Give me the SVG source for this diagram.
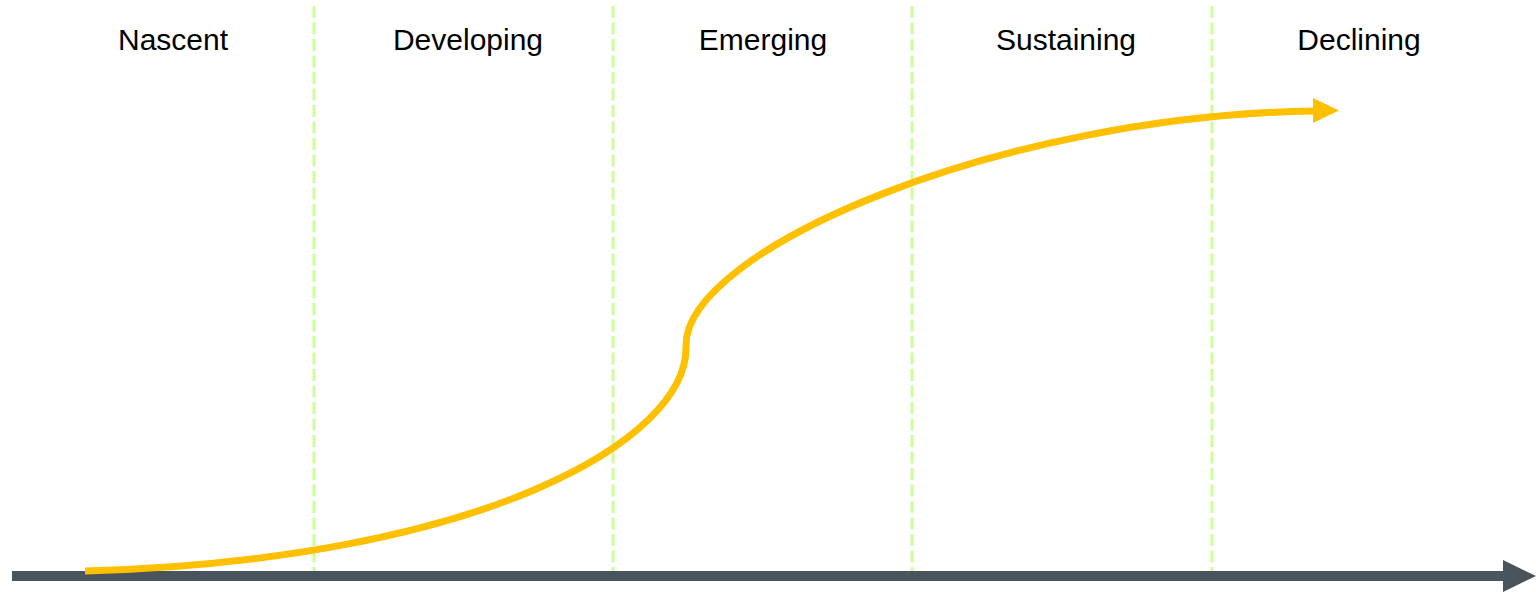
<svg xmlns="http://www.w3.org/2000/svg" width="1536" height="592" viewBox="0 0 1536 592">
<style>
.lbl{font-family:"Liberation Sans",Arial,sans-serif;font-size:30px;fill:#000;text-anchor:middle}
.div{stroke:#CCFF99;stroke-width:3;stroke-dasharray:12 4.5}
</style>
<rect width="1536" height="592" fill="#fff"/>
<g id="labels">
<g id="nascent"><text class="lbl" x="173" y="50">Nascent</text></g>
<g id="developing"><text class="lbl" x="468" y="50">Developing</text></g>
<g id="emerging"><text class="lbl" x="763" y="50">Emerging</text></g>
<g id="sustaining"><text class="lbl" x="1066" y="50">Sustaining</text></g>
<g id="declining"><text class="lbl" x="1359" y="50">Declining</text></g>
</g>
<g id="dividers">
<line class="div" x1="314" y1="6" x2="314" y2="576"/>
<line class="div" x1="613" y1="6" x2="613" y2="576"/>
<line class="div" x1="912" y1="6" x2="912" y2="576"/>
<line class="div" x1="1212" y1="6" x2="1212" y2="576"/>
</g>
<g id="connectors">
<g id="axis">
<line x1="12" y1="576" x2="1505" y2="576" stroke="#4A545C" stroke-width="10"/>
<polygon points="1503,560 1536,576 1503,592" fill="#4A545C"/>
</g>
<g id="curve">
<path d="M 85 571 C 480 560 690 440 686 345 C 686 250 1000 115 1315 111" fill="none" stroke="#FFC000" stroke-width="7"/>
<polygon points="1313,98 1339,110.5 1313,123" fill="#FFC000"/>
</g>
</g>
</svg>
